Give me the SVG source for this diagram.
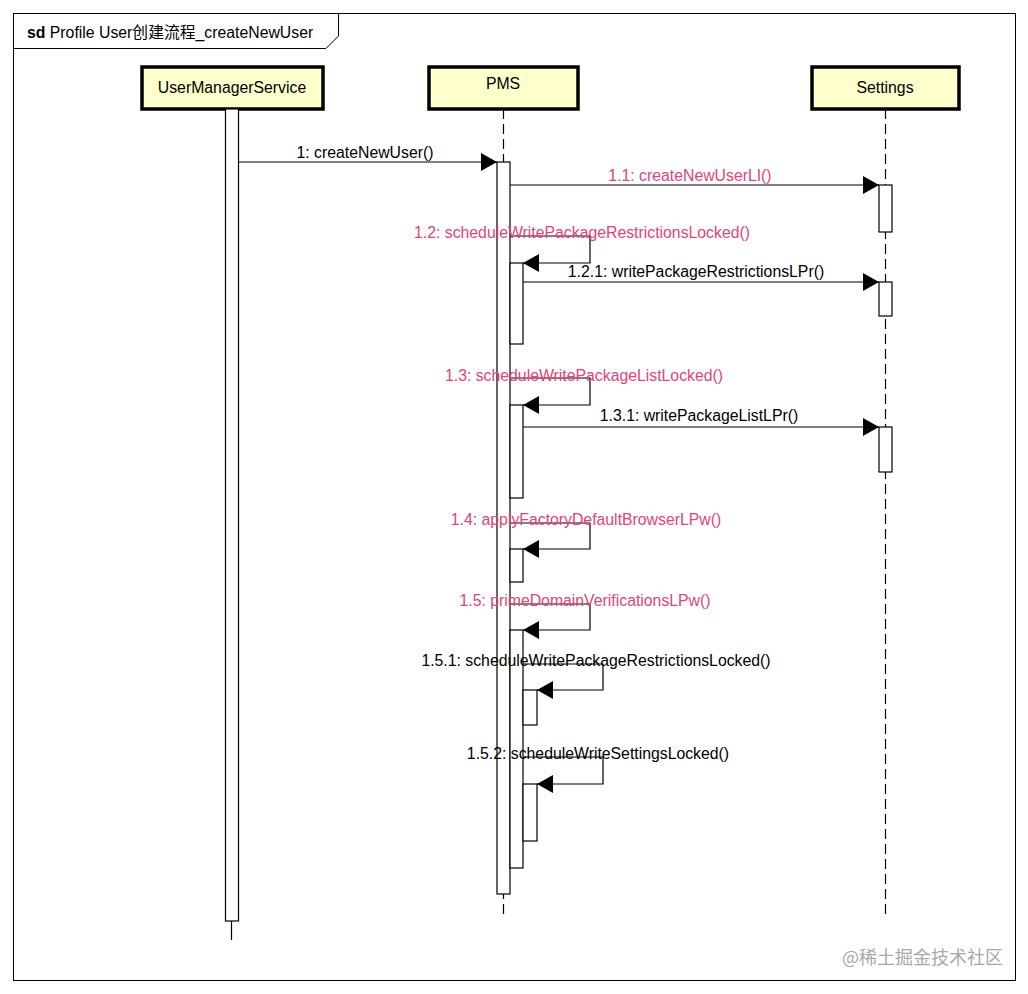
<svg xmlns="http://www.w3.org/2000/svg" width="1028" height="994" viewBox="0 0 1028 994">
<defs>
<style>
.frame{fill:none;stroke:#000;stroke-width:1}
.head{fill:#FFFFCC;stroke:#000;stroke-width:3.5}
.hl{font-family:"Liberation Sans",Arial,sans-serif;font-size:15.8px;fill:#000;text-anchor:middle}
.life{stroke:#000;stroke-width:1.2;stroke-dasharray:10,5;fill:none}
.act{fill:#fff;stroke:#000;stroke-width:1.2}
.msg{fill:none;stroke:#000;stroke-width:1.2}
.lbl{font-family:"Liberation Sans",Arial,sans-serif;font-size:15.8px;text-anchor:middle;fill:#000}
.pink{fill:#E0457B}
</style>
<marker id="ah" viewBox="0 0 16 18" refX="16" refY="9" markerWidth="16" markerHeight="18" markerUnits="userSpaceOnUse" orient="auto">
<path d="M0,0 L16,9 L0,18 Z" fill="#000"/>
</marker>
</defs>
<rect width="1028" height="994" fill="#fff"/>
<g id="frame">
<rect class="frame" x="13.5" y="13.5" width="1002" height="967"/>
<path class="frame" d="M13.5,48.5 H326 L338.5,36 V13.5"/>
<text x="27" y="38" font-family="Liberation Sans,'Noto Sans CJK SC',sans-serif" font-size="15.8" fill="#000"><tspan font-weight="bold">sd</tspan> Profile User创建流程_createNewUser</text>
</g>
<g id="UserManagerService">
<rect class="head" x="142" y="67" width="181" height="42"/>
<text class="hl" x="232" y="93">UserManagerService</text>
<line x1="231.5" y1="921" x2="231.5" y2="940" stroke="#000" stroke-width="1.2"/>
<rect class="act" x="225.5" y="109" width="13" height="812"/>
</g>
<g id="PMS">
<rect class="head" x="429" y="67" width="149" height="42"/>
<text class="hl" x="503" y="89">PMS</text>
<line class="life" x1="503.5" y1="109" x2="503.5" y2="914"/>
<rect class="act" x="497" y="162" width="13" height="732"/>
<rect class="act" x="510" y="263" width="13" height="81"/>
<rect class="act" x="510" y="405" width="13" height="93"/>
<rect class="act" x="510" y="549" width="13" height="33"/>
<rect class="act" x="510" y="630" width="13" height="238"/>
<rect class="act" x="523" y="690" width="14" height="35"/>
<rect class="act" x="523" y="784" width="14" height="57"/>
</g>
<g id="Settings">
<rect class="head" x="812" y="67" width="147" height="42"/>
<text class="hl" x="885" y="93">Settings</text>
<line class="life" x1="885.5" y1="109" x2="885.5" y2="914"/>
<rect class="act" x="879" y="185" width="13" height="47"/>
<rect class="act" x="879" y="282" width="13" height="34"/>
<rect class="act" x="879" y="427" width="13" height="45"/>
</g>
<g id="connectors">
<line class="msg" x1="238.5" y1="162" x2="497" y2="162" marker-end="url(#ah)"/>
<text class="lbl" x="365" y="158">1: createNewUser()</text>
<line class="msg" x1="510" y1="185" x2="879" y2="185" marker-end="url(#ah)"/>
<text class="lbl pink" x="690" y="181">1.1: createNewUserLI()</text>
<polyline class="msg" points="510,236 590,236 590,263 523,263" marker-end="url(#ah)"/>
<text class="lbl pink" x="582" y="238">1.2: scheduleWritePackageRestrictionsLocked()</text>
<line class="msg" x1="523" y1="282" x2="879" y2="282" marker-end="url(#ah)"/>
<text class="lbl" x="696" y="277">1.2.1: writePackageRestrictionsLPr()</text>
<polyline class="msg" points="510,378 590,378 590,405 523,405" marker-end="url(#ah)"/>
<text class="lbl pink" x="584" y="381">1.3: scheduleWritePackageListLocked()</text>
<line class="msg" x1="523" y1="427" x2="879" y2="427" marker-end="url(#ah)"/>
<text class="lbl" x="699" y="421">1.3.1: writePackageListLPr()</text>
<polyline class="msg" points="510,523 590,523 590,549 523,549" marker-end="url(#ah)"/>
<text class="lbl pink" x="586" y="525">1.4: applyFactoryDefaultBrowserLPw()</text>
<polyline class="msg" points="510,604 590,604 590,630 523,630" marker-end="url(#ah)"/>
<text class="lbl pink" x="585" y="606">1.5: primeDomainVerificationsLPw()</text>
<polyline class="msg" points="523,664 603,664 603,690 537,690" marker-end="url(#ah)"/>
<text class="lbl" x="596" y="666">1.5.1: scheduleWritePackageRestrictionsLocked()</text>
<polyline class="msg" points="523,757 603,757 603,784 537,784" marker-end="url(#ah)"/>
<text class="lbl" x="598" y="759">1.5.2: scheduleWriteSettingsLocked()</text>
</g>
<text x="842" y="964" font-family="'Noto Sans CJK SC',sans-serif" font-size="18" fill="#a8a8a8">@稀土掘金技术社区</text>
</svg>
